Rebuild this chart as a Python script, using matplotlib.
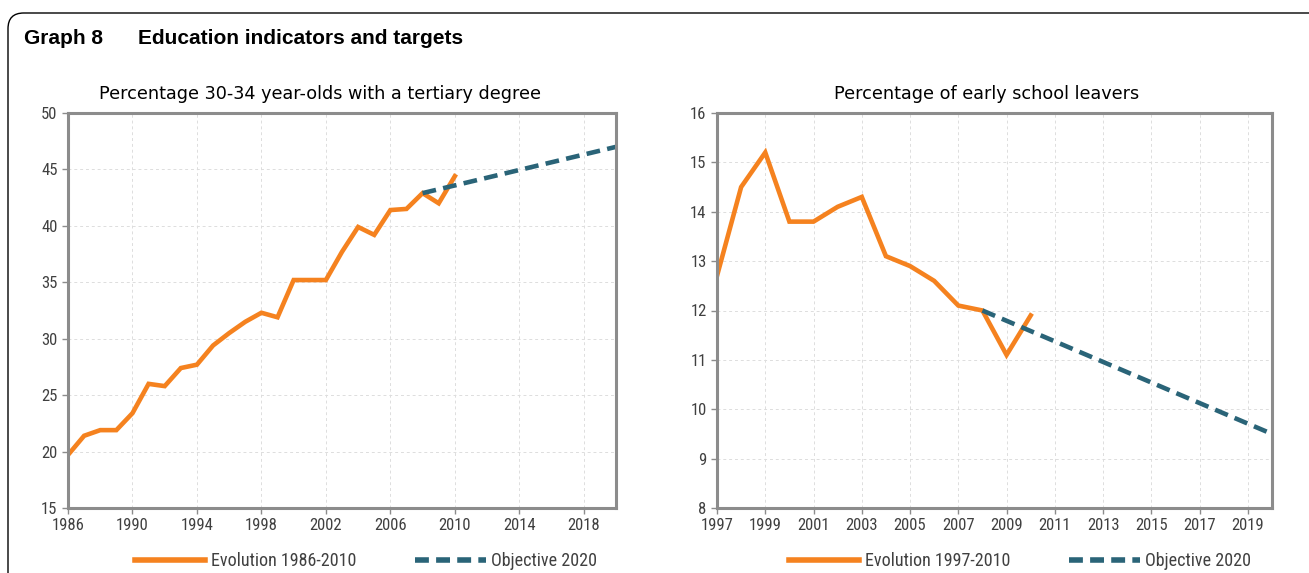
import matplotlib.pyplot as plt
from matplotlib import font_manager
from matplotlib.patches import FancyBboxPatch
from matplotlib.lines import Line2D

# Left chart: tertiary degree, 30-34 year-olds
years_tert = list(range(1986, 2011))
tertiary = [19.7, 21.4, 21.9, 21.9, 23.4, 26.0, 25.8, 27.4, 27.7, 29.4,
            30.5, 31.5, 32.3, 31.9, 35.2, 35.2, 35.2, 37.7, 39.9, 39.2,
            41.4, 41.5, 42.9, 42.0, 44.4]
obj_tert_years = [2008, 2020]
obj_tert = [42.9, 47.0]

# Right chart: early school leavers
years_esl = list(range(1997, 2011))
early_leavers = [12.7, 14.5, 15.2, 13.8, 13.8, 14.1, 14.3, 13.1, 12.9, 12.6,
                 12.1, 12.0, 11.1, 11.9]
obj_esl_years = [2008, 2020]
obj_esl = [12.0, 9.5]

ORANGE = '#f5821f'
TEAL = '#2a6478'
SPINE = '#8c8c8c'
TXT = '#404040'

# pick a narrow font if one is around
names = {f.name for f in font_manager.fontManager.ttflist}
NARROW = 'DejaVu Sans'
for cand in ['Liberation Sans Narrow', 'Roboto Condensed', 'Open Sans Condensed',
             'DejaVu Sans Condensed']:
    if cand in names:
        NARROW = cand
        break
small = 12 if NARROW != 'DejaVu Sans' else 10.5

plt.rcParams['font.family'] = ['DejaVu Sans']

fig = plt.figure(figsize=(13.09, 5.73), dpi=100)
W, H = 1309, 573

# rounded frame
frame = FancyBboxPatch((8 / W, -0.2), 1.2, (H - 13) / H + 0.2,
                       boxstyle='round,pad=0,rounding_size=0.012',
                       transform=fig.transFigure, fill=False,
                       edgecolor='black', linewidth=1.0, mutation_aspect=W / H)
fig.patches.append(frame)

fig.text(24 / W, 1 - 38 / H, 'Graph 8', fontsize=15, fontweight='bold',
         family='Liberation Sans', va='center', ha='left')
fig.text(138 / W, 1 - 38 / H, 'Education indicators and targets', fontsize=15,
         fontweight='bold', family='Liberation Sans', va='center', ha='left')


def make_axes(rect, title, title_x):
    ax = fig.add_axes(rect)
    for s in ax.spines.values():
        s.set_color(SPINE)
        s.set_linewidth(2.2)
    ax.grid(True, color='#dddddd', linestyle=(0, (3, 3)), linewidth=0.7)
    ax.set_axisbelow(True)
    ax.tick_params(colors=SPINE, labelcolor=TXT, length=4, width=1)
    fig.text(title_x / W, 1 - 94 / H, title, fontsize=12.7, color='black',
             ha='center', va='center')
    return ax


def style_ticks(ax):
    for lbl in ax.get_xticklabels() + ax.get_yticklabels():
        lbl.set_family(NARROW)
        lbl.set_fontsize(small)


def to_rect(x0, y0, x1, y1):
    return [x0 / W, 1 - y1 / H, (x1 - x0) / W, (y1 - y0) / H]


# left
ax1 = make_axes(to_rect(68, 113, 616, 508),
                'Percentage 30-34 year-olds with a tertiary degree', 320)
ax1.plot(years_tert, tertiary, color=ORANGE, linewidth=3.3,
         solid_joinstyle='miter')
ax1.plot(obj_tert_years, obj_tert, color=TEAL, linewidth=3.3,
         linestyle=(0, (3, 1.6)))
ax1.set_xlim(1986, 2020)
ax1.set_ylim(15, 50)
ax1.set_xticks(range(1986, 2020, 4))
ax1.set_yticks(range(15, 51, 5))
style_ticks(ax1)

# right
ax2 = make_axes(to_rect(717, 113, 1272, 508),
                'Percentage of early school leavers', 987)
ax2.plot(years_esl, early_leavers, color=ORANGE, linewidth=3.3,
         solid_joinstyle='miter')
ax2.plot(obj_esl_years, obj_esl, color=TEAL, linewidth=3.3,
         linestyle=(0, (3, 1.6)))
ax2.set_xlim(1997, 2020)
ax2.set_ylim(8, 16)
ax2.set_xticks(range(1997, 2020, 2))
ax2.set_yticks(range(8, 17, 1))
style_ticks(ax2)


def legend_for(label1, xc):
    handles = [Line2D([], [], color=ORANGE, linewidth=4),
               Line2D([], [], color=TEAL, linewidth=4, linestyle=(0, (2.5, 1.3)))]
    fig.legend(handles, [label1, 'Objective 2020'], loc='center',
               bbox_to_anchor=(xc / W, 1 - 561 / H), ncol=2, frameon=False,
               prop={'family': NARROW, 'size': small + 1},
               handlelength=3.9, handletextpad=0.3,
               columnspacing=3.3, labelcolor=TXT)


legend_for('Evolution 1986-2010', 366)
legend_for('Evolution 1997-2010', 1020)

fig.savefig('out.png', dpi=100)
